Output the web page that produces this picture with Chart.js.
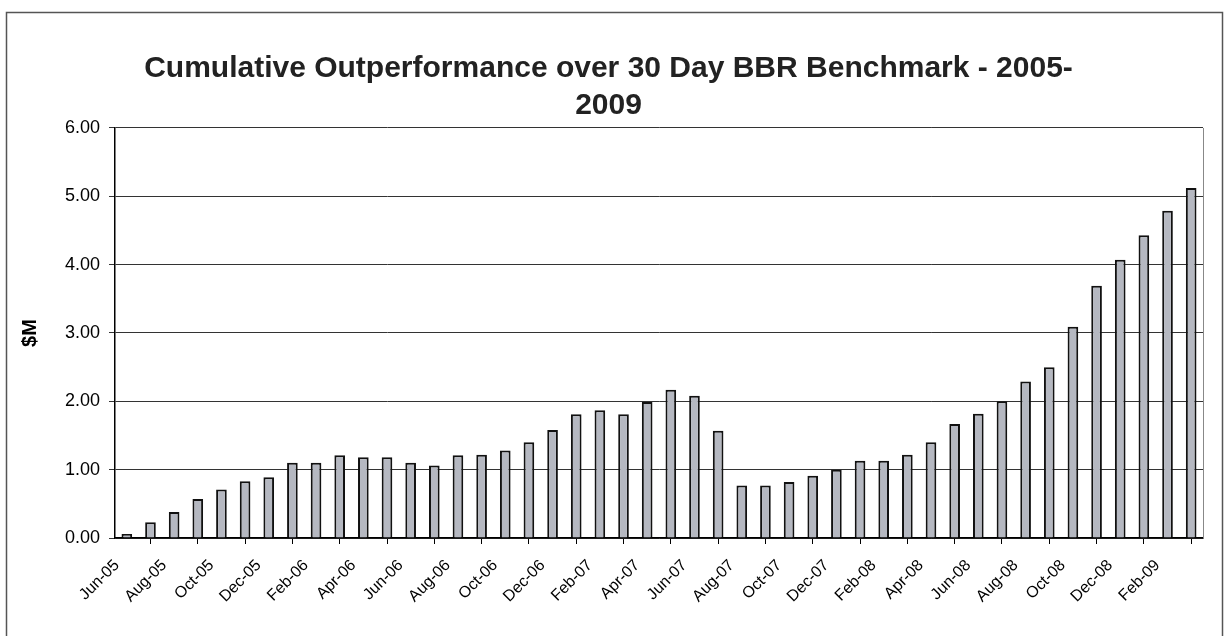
<!DOCTYPE html>
<html lang="en">
<head>
<meta charset="UTF-8">
<title>Cumulative Outperformance over 30 Day BBR Benchmark</title>
<script src="https://cdn.jsdelivr.net/npm/chart.js@4.4.0/dist/chart.umd.min.js"></script>
<style>
    body {
        margin: 0;
        background-color: #fff;
    }
    #wrap {
        width: 1230px;
        height: 636px;
    }
</style>
</head>
<body>
<div id="wrap"><canvas id="chart" width="1230" height="636"></canvas></div>
<script>
// month labels, Jun-05 to Mar-09
const months = [
    'Jun-05', 'Jul-05', 'Aug-05', 'Sep-05', 'Oct-05', 'Nov-05', 'Dec-05',
    'Jan-06', 'Feb-06', 'Mar-06', 'Apr-06', 'May-06', 'Jun-06', 'Jul-06', 'Aug-06', 'Sep-06', 'Oct-06', 'Nov-06', 'Dec-06',
    'Jan-07', 'Feb-07', 'Mar-07', 'Apr-07', 'May-07', 'Jun-07', 'Jul-07', 'Aug-07', 'Sep-07', 'Oct-07', 'Nov-07', 'Dec-07',
    'Jan-08', 'Feb-08', 'Mar-08', 'Apr-08', 'May-08', 'Jun-08', 'Jul-08', 'Aug-08', 'Sep-08', 'Oct-08', 'Nov-08', 'Dec-08',
    'Jan-09', 'Feb-09', 'Mar-09'
];

// cumulative outperformance, $M
const outperformance = [
    0.06, 0.23, 0.38, 0.57, 0.71, 0.83, 0.89,
    1.10, 1.10, 1.21, 1.18, 1.18, 1.10, 1.06, 1.21, 1.22, 1.28, 1.40, 1.58,
    1.81, 1.87, 1.81, 1.99, 2.17, 2.08, 1.57, 0.77, 0.77, 0.82, 0.91, 1.00,
    1.13, 1.13, 1.22, 1.40, 1.67, 1.82, 2.00, 2.29, 2.50, 3.09, 3.69, 4.07,
    4.43, 4.79, 5.12
];

const titleLines = ['Cumulative Outperformance over 30 Day BBR Benchmark - 2005-', '2009'];
const yMin = 0;
const yMax = 6;

// outer frame + right border of the plot area
const framePlugin = {
    id: 'frame',
    beforeDraw(chart) {
        const ctx = chart.ctx;
        ctx.save();
        ctx.fillStyle = '#fff';
        ctx.fillRect(0, 0, chart.width, chart.height);
        ctx.strokeStyle = '#555';
        ctx.lineWidth = 1.5;
        ctx.strokeRect(6.5, 12.5, 1216, 700);
        ctx.restore();
    },
    beforeDatasetsDraw(chart) {
        const a = chart.chartArea;
        const ctx = chart.ctx;
        ctx.save();
        ctx.strokeStyle = '#888';
        ctx.lineWidth = 1;
        ctx.beginPath();
        ctx.moveTo(a.right + 0.5, a.top);
        ctx.lineTo(a.right + 0.5, a.bottom);
        ctx.stroke();
        ctx.restore();
    }
};

Chart.defaults.font.family = '"Liberation Sans", Arial, sans-serif';
Chart.defaults.color = '#000';

new Chart(document.getElementById('chart'), {
    type: 'bar',
    data: {
        labels: months,
        datasets: [{
            label: '$M',
            data: outperformance,
            backgroundColor: '#b5b8c1',
            borderColor: '#111',
            borderWidth: 2,
            barPercentage: 0.45,
            categoryPercentage: 1
        }]
    },
    options: {
        responsive: false,
        animation: false,
        layout: {
            padding: { left: 14, right: 27, top: 0, bottom: 0 }
        },
        plugins: {
            legend: { display: false },
            tooltip: { enabled: false },
            title: {
                display: true,
                text: titleLines,
                color: '#222',
                font: { size: 30, weight: 'bold', lineHeight: 1.233 },
                padding: { top: 50, bottom: 4 }
            }
        },
        scales: {
            x: {
                grid: { offset: true, drawOnChartArea: false, tickLength: 6, color: '#000' },
                border: { color: '#000', width: 1.5 },
                ticks: {
                    autoSkip: false,
                    maxRotation: 45,
                    minRotation: 45,
                    padding: 12,
                    labelOffset: -10,
                    font: { size: 16 },
                    color: '#000',
                    callback: function (v, i) {
                        return i % 2 === 0 ? this.getLabelForValue(v) : null;
                    }
                },
                afterFit(s) { s.height = 98; }
            },
            y: {
                min: yMin,
                max: yMax,
                ticks: {
                    stepSize: 1,
                    padding: 9,
                    font: { size: 18 },
                    color: '#000',
                    callback: v => v.toFixed(2)
                },
                grid: { color: '#333', lineWidth: 1, tickLength: 6 },
                border: { color: '#000', width: 1.5 },
                title: {
                    display: true,
                    text: '$M',
                    color: '#000',
                    font: { size: 20, weight: 'bold' },
                    padding: { top: 4, bottom: 4 }
                },
                afterFit(s) { s.width = 101; }
            }
        }
    },
    plugins: [framePlugin]
});
</script>
</body>
</html>
